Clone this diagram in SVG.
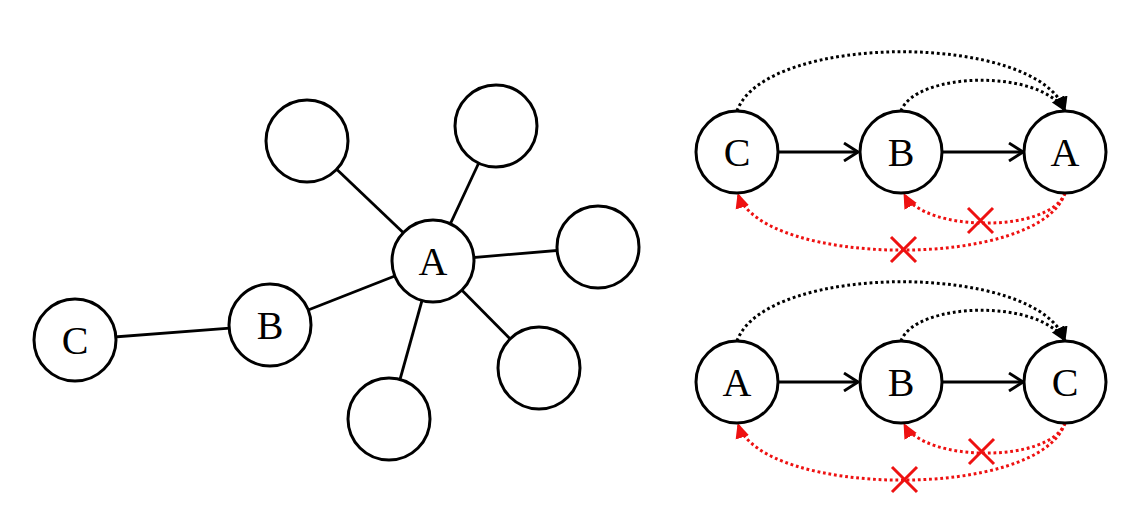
<svg xmlns="http://www.w3.org/2000/svg" width="1130" height="513" viewBox="0 0 1130 513">
<style>
.n{fill:#fff;stroke:#000;stroke-width:3}
.t{font-family:"Liberation Serif","DejaVu Serif",serif;font-size:40px;text-anchor:middle;dominant-baseline:central;fill:#000}
.e{stroke:#000;stroke-width:2.8;fill:none}
.dk{stroke:#000;stroke-width:3;fill:none;stroke-dasharray:2.8 2.8}
.dr{stroke:#ee1111;stroke-width:3;fill:none;stroke-dasharray:2.8 2.8}
.x{stroke:#ee1111;stroke-width:3;fill:none}
</style>
<defs>
<marker id="open" viewBox="0 0 20 20" refX="18" refY="10" markerWidth="20" markerHeight="20" markerUnits="userSpaceOnUse" orient="auto">
<path d="M4,1 L18,10 L4,19" fill="none" stroke="#000" stroke-width="2.8"/>
</marker>
<marker id="fk" viewBox="0 0 16 16" refX="14" refY="8" markerWidth="16" markerHeight="16" markerUnits="userSpaceOnUse" orient="auto">
<path d="M0,1 L15,8 L0,15 Z" fill="#000"/>
</marker>
<marker id="fr" viewBox="0 0 16 16" refX="14" refY="8" markerWidth="16" markerHeight="16" markerUnits="userSpaceOnUse" orient="auto">
<path d="M0,1 L15,8 L0,15 Z" fill="#ee1111"/>
</marker>
</defs>
<g id="connectors">
<line class="e" x1="75" y1="340" x2="270" y2="325"/>
<line class="e" x1="270" y1="325" x2="433" y2="261"/>
<line class="e" x1="433" y1="261" x2="307" y2="141"/>
<line class="e" x1="433" y1="261" x2="496" y2="126"/>
<line class="e" x1="433" y1="261" x2="598" y2="247"/>
<line class="e" x1="433" y1="261" x2="539" y2="368"/>
<line class="e" x1="433" y1="261" x2="389" y2="419"/>
<line class="e" x1="778" y1="152" x2="858" y2="152" marker-end="url(#open)"/>
<line class="e" x1="943" y1="152" x2="1023" y2="152" marker-end="url(#open)"/>
<path class="dk" d="M737,111 C765,32 1040,32 1065,111" marker-end="url(#fk)"/>
<path class="dk" d="M901,111 C915,72 1040,68 1065,111" marker-end="url(#fk)"/>
<path class="dr" d="M1065,193 C1050,233 925,233 904,194" marker-end="url(#fr)"/>
<path class="dr" d="M1065,193 C1040,270 762,268 738,194" marker-end="url(#fr)"/>
<path class="x" d="M968,208 L993,233 M993,208 L968,233"/>
<path class="x" d="M891,237 L916,262 M916,237 L891,262"/>
<line class="e" x1="778" y1="382" x2="858" y2="382" marker-end="url(#open)"/>
<line class="e" x1="943" y1="382" x2="1023" y2="382" marker-end="url(#open)"/>
<path class="dk" d="M737,341 C765,262 1040,262 1065,341" marker-end="url(#fk)"/>
<path class="dk" d="M901,341 C915,302 1040,298 1065,341" marker-end="url(#fk)"/>
<path class="dr" d="M1065,423 C1050,463 925,463 904,424" marker-end="url(#fr)"/>
<path class="dr" d="M1065,423 C1040,500 762,498 738,424" marker-end="url(#fr)"/>
<path class="x" d="M969,439 L994,464 M994,439 L969,464"/>
<path class="x" d="M892,467 L917,492 M917,467 L892,492"/>
</g>
<g id="lC"><circle class="n" cx="75" cy="340" r="41"/><text class="t" x="75" y="340">C</text></g>
<g id="lB"><circle class="n" cx="270" cy="325" r="41"/><text class="t" x="270" y="325">B</text></g>
<g id="lA"><circle class="n" cx="433" cy="261" r="41"/><text class="t" x="433" y="261">A</text></g>
<g id="l1"><circle class="n" cx="307" cy="141" r="41"/></g>
<g id="l2"><circle class="n" cx="496" cy="126" r="41"/></g>
<g id="l3"><circle class="n" cx="598" cy="247" r="41"/></g>
<g id="l4"><circle class="n" cx="539" cy="368" r="41"/></g>
<g id="l5"><circle class="n" cx="389" cy="419" r="41"/></g>
<g id="tC"><circle class="n" cx="737" cy="152" r="41"/><text class="t" x="737" y="152">C</text></g>
<g id="tB"><circle class="n" cx="901" cy="152" r="41"/><text class="t" x="901" y="152">B</text></g>
<g id="tA"><circle class="n" cx="1065" cy="152" r="41"/><text class="t" x="1065" y="152">A</text></g>
<g id="bA"><circle class="n" cx="737" cy="382" r="41"/><text class="t" x="737" y="382">A</text></g>
<g id="bB"><circle class="n" cx="901" cy="382" r="41"/><text class="t" x="901" y="382">B</text></g>
<g id="bC"><circle class="n" cx="1065" cy="382" r="41"/><text class="t" x="1065" y="382">C</text></g>
</svg>
